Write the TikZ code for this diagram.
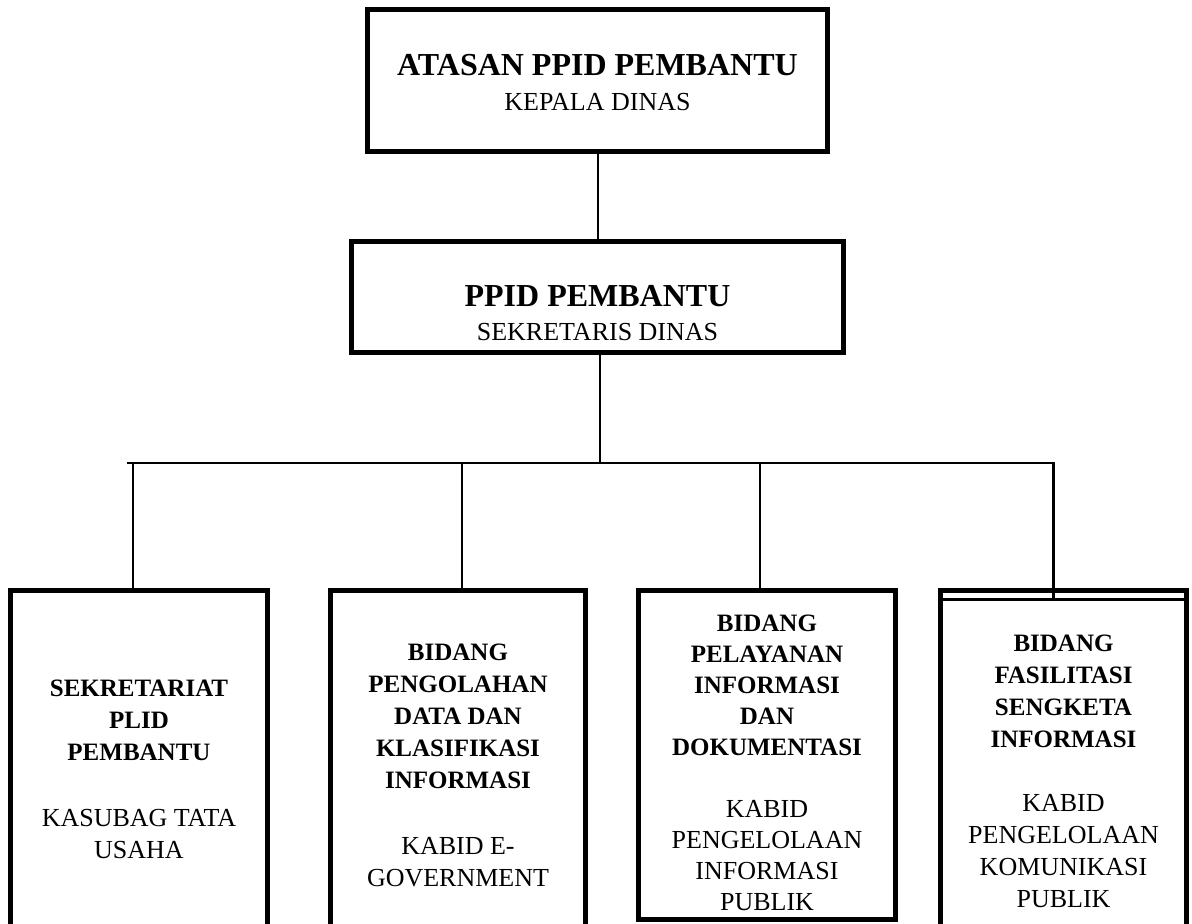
\documentclass[tikz,border=0pt]{standalone}
\usepackage{fontspec}
\setmainfont{Liberation Serif}
\newcommand\hd[1]{{\bfseries\fontsize{25}{32}\selectfont #1}}
\newcommand\hdb[1]{{\bfseries\fontsize{25}{31}\selectfont #1}}
\begin{document}
\begin{tikzpicture}[x=1pt,y=-1pt,
  box/.style={draw,line width=5pt,inner sep=0pt},
  conn/.style={line width=2pt},
  lbl/.style={align=center,inner sep=0pt,font=\fontsize{26}{32}\selectfont},
  toplbl/.style={align=center,inner sep=0pt,font=\fontsize{26}{35}\selectfont}]
\useasboundingbox (0,0) rectangle (1192,924);
\clip (0,0) rectangle (1192,924);
\fill[white] (0,0) rectangle (1192,924);

% upper boxes
\node[box,minimum width=460pt,minimum height=142pt] (top) at (597.5,80.5) {};
\node[box,minimum width=492pt,minimum height=111pt] (mid) at (597.5,297) {};
\node[toplbl] (toptxt) at (597.5,83) {{\bfseries\fontsize{32}{35}\selectfont ATASAN PPID PEMBANTU}\\KEPALA DINAS};
\node[toplbl,font=\fontsize{26}{34}\selectfont] (midtxt) at (597.5,313) {{\bfseries\fontsize{32}{34}\selectfont PPID PEMBANTU}\\SEKRETARIS DINAS};

% lower boxes
\node[box,minimum width=257pt,minimum height=347pt] (b1) at (139,764) {};
\node[box,minimum width=255pt,minimum height=347pt] (b2) at (458,764) {};
\node[box,minimum width=257pt,minimum height=329pt] (b3) at (767,755) {};
\node[box,minimum width=246pt,minimum height=347pt] (b4) at (1063.5,764) {};
\coordinate (b4l) at (940.5,599);
\coordinate (b4r) at (1186.5,599);
\draw[line width=3pt] (b4l) -- (b4r);

\node[lbl] (t1) at (139,769) {\hd{SEKRETARIAT}\\\hd{PLID}\\\hd{PEMBANTU}\\[34pt]KASUBAG TATA\\USAHA};
\node[lbl] (t2) at (458,765) {\hd{BIDANG}\\\hd{PENGOLAHAN}\\\hd{DATA DAN}\\\hd{KLASIFIKASI}\\\hd{INFORMASI}\\[34pt]KABID E-\\GOVERNMENT};
\node[lbl,font=\fontsize{26}{31}\selectfont] (t3) at (767,763) {\hdb{BIDANG}\\\hdb{PELAYANAN}\\\hdb{INFORMASI}\\\hdb{DAN}\\\hdb{DOKUMENTASI}\\[31pt]KABID\\PENGELOLAAN\\INFORMASI\\PUBLIK};
\node[lbl] (t4) at (1063.5,771) {\hd{BIDANG}\\\hd{FASILITASI}\\\hd{SENGKETA}\\\hd{INFORMASI}\\[32pt]KABID\\PENGELOLAAN\\KOMUNIKASI\\PUBLIK};

% connectors
\coordinate (busL) at (127,463);
\coordinate (busR) at (1055,463);
\coordinate (hub) at (600,463);
\coordinate (j1) at (133,463);
\coordinate (j2) at (462,463);
\coordinate (j3) at (760,463);
\coordinate (j4) at (1053,463);
\draw[conn] (top.south) -- (mid.north);
\draw[conn] (mid.south -| hub) -- (hub);
\draw[conn] (busL) -- (busR);
\draw[conn] (j1) -- (j1 |- b1.north);
\draw[conn] (j2) -- (j2 |- b2.north);
\draw[conn] (j3) -- (j3 |- b3.north);
\draw[line width=3pt] (j4) -- (j4 |- b4l);
\end{tikzpicture}
\end{document}
